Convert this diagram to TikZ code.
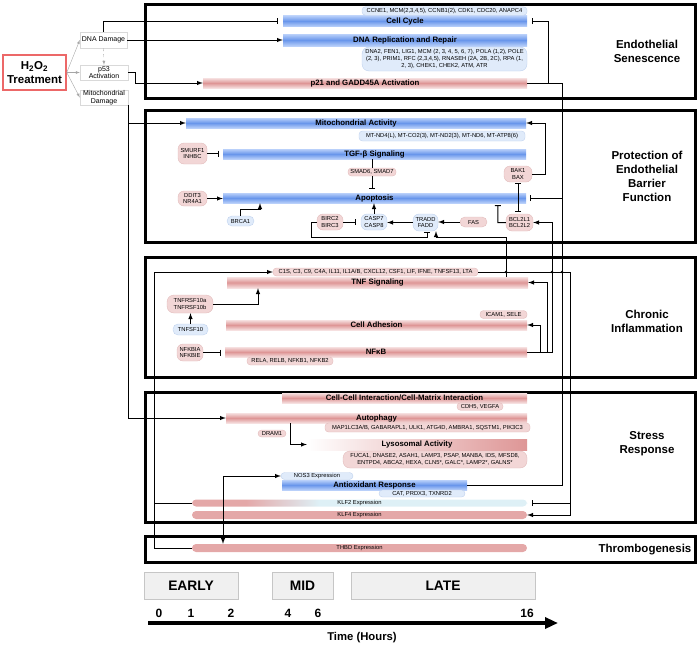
\documentclass[tikz,border=0pt]{standalone}
\usepackage{fontspec}
\setmainfont{Liberation Sans}
\usetikzlibrary{arrows.meta,positioning}
\definecolor{bluedk}{RGB}{105,150,235}
\definecolor{bluelt}{RGB}{185,208,250}
\definecolor{reddk}{RGB}{222,150,150}
\definecolor{redlt}{RGB}{246,224,224}
\definecolor{genebl}{RGB}{224,235,250}
\definecolor{geneblline}{RGB}{192,210,238}
\definecolor{generd}{RGB}{242,214,214}
\definecolor{generdline}{RGB}{226,188,188}
\definecolor{klfpink}{RGB}{228,168,168}
\definecolor{klfcyan}{RGB}{222,240,246}
\definecolor{treatred}{RGB}{236,104,104}
\pgfdeclarehorizontalshading{klfshade}{100bp}{color(0bp)=(klfpink); color(33bp)=(klfpink); color(44bp)=(klfcyan); color(100bp)=(klfcyan)}
\begin{document}
\begin{tikzpicture}[x=1pt,y=-1pt,
    barbase/.style={rectangle, inner sep=0pt, font=\bfseries\fontsize{7.8}{8}\selectfont},
    bluebar/.style={barbase, top color=bluelt, bottom color=bluelt, middle color=bluedk},
    redbar/.style={barbase, top color=redlt, bottom color=redlt, middle color=reddk},
    exprbar/.style={rectangle, rounded corners=4pt, inner sep=0pt, font=\fontsize{5.8}{6}\selectfont},
    gene/.style={rectangle, rounded corners=3.5pt, inner sep=0.5pt, align=center, font=\fontsize{5.8}{6.6}\selectfont},
    bluegene/.style={gene, fill=genebl, draw=geneblline},
    redgene/.style={gene, fill=generd, draw=generdline},
    event/.style={rectangle, draw=gray!30, fill=white, align=center, inner sep=0.5pt, font=\fontsize{7}{7.8}\selectfont},
    sect/.style={draw, line width=3pt},
    secttext/.style={align=center, font=\bfseries\fontsize{11.5}{14}\selectfont},
    phasebox/.style={rectangle, draw=gray!45, fill=gray!12, minimum height=27pt, font=\bfseries\fontsize{13.8}{14}\selectfont},
    hourtext/.style={font=\bfseries\fontsize{12}{13}\selectfont},
    link/.style={line width=1pt},
    act/.style={link, ->, >=latex},
    inh/.style={link, -{Bar[width=6pt]}},
    fanout/.style={gray!70, line width=0.4pt, ->, >=latex}
  ]
  \useasboundingbox (0,0) rectangle (700,645);

  % outcome panels
  \draw[sect] (145,4) rectangle (695,98);
  \draw[sect] (145,110) rectangle (695,242);
  \draw[sect] (145,257) rectangle (695,377);
  \draw[sect] (145,392) rectangle (695,522);
  \draw[sect] (145,536) rectangle (695,562);

  \node[secttext] (senlbl) at (647,51) {Endothelial\\Senescence};
  \node[secttext] (barlbl) at (647,176) {Protection of\\Endothelial\\Barrier\\Function};
  \node[secttext] (inflbl) at (647,321.5) {Chronic\\Inflammation};
  \node[secttext] (strlbl) at (647,443.5) {Stress\\Response};
  \node[secttext] (thrlbl) at (645,550) {Thrombogenesis};

  % treatment and early events
  \node[draw=treatred, line width=1.5pt, fill=white, minimum width=63, minimum height=35, align=center,
        font=\bfseries\fontsize{11.5}{14}\selectfont] (h2o2) at (34.5,72.5) {H\textsubscript{2}O\textsubscript{2}\\Treatment};
  \node[event, minimum width=47, minimum height=16] (dnadmg) at (103.5,40) {DNA Damage};
  \node[event, minimum width=48, minimum height=15] (p53) at (104,72.5) {p53\\Activation};
  \node[event, minimum width=48, minimum height=15] (mitodmg) at (104,97.5) {Mitochondrial\\Damage};
  \draw[fanout] (h2o2.east) -- (dnadmg.west);
  \draw[fanout] (h2o2.east) -- (p53.west);
  \draw[fanout] (h2o2.east) -- (mitodmg.west);
  \draw[fanout, dashed] (dnadmg.south) -- (p53.north);

  % endothelial senescence
  \node[bluebar, minimum width=244, minimum height=11] (cellcyc) at (405,21) {Cell Cycle};
  \node[bluegene, minimum width=165, minimum height=8.5] (cycgenes) at (444.5,11) {CCNE1, MCM(2,3,4,5), CCNB1(2), CDK1, CDC20, ANAPC4};
  \node[bluebar, minimum width=244, minimum height=12] (dnarep) at (405,40) {DNA Replication and Repair};
  \node[bluegene, minimum width=165, minimum height=24, rounded corners=7pt] (repgenes) at (444.5,59)
    {DNA2, FEN1, LIG1, MCM (2, 3, 4, 5, 6, 7), POLA (1,2), POLE\\(2, 3), PRIM1, RFC (2,3,4,5), RNASEH (2A, 2B, 2C), RPA (1,\\2, 3), CHEK1, CHEK2, ATM, ATR};
  \node[redbar, minimum width=324, minimum height=10] (p21) at (365,83) {p21 and GADD45A Activation};

  \draw[inh, shorten >=5pt] (dnadmg.north) |- (cellcyc.west);
  \draw[act] (dnadmg.east) -- (dnarep.west);
  \draw[act] (p53.east) -- ++(7,0) |- (p21.west);
  \draw[inh, shorten >=5pt] (p21.east) -- ++(21,0) |- (cellcyc.east);

  % endothelial barrier
  \node[bluebar, minimum width=340, minimum height=10] (mitoact) at (356,123) {Mitochondrial Activity};
  \node[bluegene, minimum width=166, minimum height=10] (mitogenes) at (442,136) {MT-ND4(L), MT-CO2(3), MT-ND2(3), MT-ND6, MT-ATP8(6)};
  \node[redgene, minimum width=29, minimum height=21, rounded corners=6pt] (smurf) at (192.5,153.5) {SMURF1\\INHBC};
  \node[bluebar, minimum width=303, minimum height=10] (tgf) at (374.5,154) {TGF-β Signaling};
  \node[redgene, minimum width=48, minimum height=8] (smad) at (372,172) {SMAD6, SMAD7};
  \node[redgene, minimum width=29, minimum height=15, rounded corners=6pt] (ddit) at (192.5,198.5) {DDIT3\\NR4A1};
  \node[bluebar, minimum width=303, minimum height=10] (apop) at (374.5,198) {Apoptosis};
  \node[bluegene, minimum width=27, minimum height=10, rounded corners=5pt] (brca) at (240.5,221) {BRCA1};
  \node[redgene, minimum width=26, minimum height=16, rounded corners=6pt] (birc) at (330,222) {BIRC2\\BIRC3};
  \node[bluegene, minimum width=26, minimum height=16, rounded corners=6pt] (casp) at (374,222) {CASP7\\CASP8};
  \node[bluegene, minimum width=25, minimum height=17, rounded corners=6pt] (tradd) at (425.5,222.5) {TRADD\\FADD};
  \node[redgene, minimum width=27, minimum height=10, rounded corners=5pt] (fas) at (473.5,222) {FAS};
  \node[redgene, minimum width=28, minimum height=16, rounded corners=6pt] (bak) at (518,174) {BAK1\\BAX};
  \node[redgene, minimum width=27, minimum height=17, rounded corners=6pt] (bcl) at (519.5,222.5) {BCL2L1\\BCL2L2};

  \draw[act] (mitodmg.south east) |- (mitoact.west);
  \draw[inh, shorten >=4pt] (smurf.east) -- (smurf.east -| tgf.west);
  \draw[link] (smad.north |- tgf.south) -- (smad.north);
  \draw[inh, shorten >=4pt] (smad.south) -- (smad.south |- apop.north);
  \draw[act] (ddit.east) -- (ddit.east -| apop.west);
  \draw[act] (brca.north) -- ++(0,-6) -| ([xshift=-114.5pt]apop.south);
  \draw[act] (casp.north) -- (casp.north |- apop.south);
  \draw[act] (fas.west) -- (fas.west -| tradd.east);
  \draw[act] (tradd.west) -- (tradd.west -| casp.east);
  \draw[inh, shorten >=5pt] (birc.east) -- (birc.east -| casp.west);
  \draw[inh] (birc.west) -- ++(-5,0) |- ([xshift=1.5pt,yshift=-6pt]tradd.south) -- ([xshift=1.5pt,yshift=-1pt]tradd.south);
  \draw[act] (bak.east) -- ++(13,0) |- (mitoact.east);
  \draw[link, {Bar[width=6pt]}-{Bar[width=6pt]}, shorten <=1pt, shorten >=2pt] (bak.south) -- (bak.south |- bcl.north);
  \draw[inh, shorten >=2pt] (bcl.west) -- ++(-8,0) -- ([xshift=123.5pt]apop.south);

  % chronic inflammation
  \node[redgene, minimum width=205, minimum height=8] (c1s) at (375.5,272) {C1S, C3, C9, C4A, IL11, IL1A/B, CXCL12, CSF1, LIF, IFNE, TNFSF13, LTA};
  \node[redbar, minimum width=301, minimum height=11] (tnfsig) at (377.5,282.5) {TNF Signaling};
  \node[redgene, minimum width=46, minimum height=18, rounded corners=7pt] (tnfr) at (190,304) {TNFRSF10a\\TNFRSF10b};
  \node[bluegene, minimum width=35, minimum height=11, rounded corners=5pt] (tnfsf) at (190.5,329.5) {TNFSF10};
  \node[redgene, minimum width=47, minimum height=8] (icam) at (503.5,314.5) {ICAM1, SELE};
  \node[redbar, minimum width=301, minimum height=10] (celladh) at (376.5,325) {Cell Adhesion};
  \node[redgene, minimum width=26, minimum height=17, rounded corners=6pt] (nfkbia) at (190,352.5) {NFKBIA\\NFKBIE};
  \node[redbar, minimum width=302, minimum height=10] (nfkb) at (376,352) {NFκB};
  \node[redgene, minimum width=86, minimum height=8] (rela) at (290,361) {RELA, RELB, NFKB1, NFKB2};

  \draw[act] (tnfr.east) -| ([xshift=-119.5pt]tnfsig.south);
  \draw[act] (tnfsf.north) -- (tnfsf.north |- tnfr.south);
  \draw[inh, shorten >=4pt] (nfkbia.east) -- (nfkbia.east -| nfkb.west);
  \draw[act] (nfkb.east) -- ++(25,0) |- (bcl.east);
  \draw[act] (nfkb.east) -- ++(20,0) |- (tnfsig.east);
  \draw[act] (nfkb.east) -- ++(13,0) |- (celladh.east);
  \draw[act] ([xshift=128.5pt]tnfsig.north) |- ([xshift=10.5pt,yshift=-6pt]tradd.south) -- ([xshift=10.5pt]tradd.south);

  % stress response
  \node[redbar, minimum width=245, minimum height=10] (cellcell) at (404.5,398) {Cell-Cell Interaction/Cell-Matrix Interaction};
  \node[redgene, minimum width=46, minimum height=7.5] (cdh5) at (480,406.5) {CDH5, VEGFA};
  \node[redbar, minimum width=301, minimum height=10] (autoph) at (376.5,418) {Autophagy};
  \node[redgene, minimum width=205, minimum height=9] (autogenes) at (427.5,427.5) {MAP1LC3A/B, GABARAPL1, ULK1, ATG4D, AMBRA1, SQSTM1, PIK3C3};
  \node[redgene, minimum width=28, minimum height=7] (dram) at (272,433.5) {DRAM1};
  \node[barbase, left color=white, right color=reddk, minimum width=220, minimum height=11] (lyso) at (417,444.5) {Lysosomal Activity};
  \node[redgene, minimum width=184, minimum height=17, rounded corners=7pt] (lysogenes) at (435,459.5)
    {FUCA1, DNASE2, ASAH1, LAMP3, PSAP, MANBA, IDS, MFSD8,\\ENTPD4, ABCA2, HEXA, CLN5*, GALC*, LAMP2*, GALNS*};
  \node[bluegene, minimum width=72, minimum height=7] (nos3) at (317,476) {NOS3 Expression};
  \node[bluebar, minimum width=185, minimum height=10] (antiox) at (374.5,485) {Antioxidant Response};
  \node[bluegene, minimum width=86, minimum height=7] (catgenes) at (422,493.5) {CAT, PRDX3, TXNRD2};
  \node[exprbar, shading=klfshade, minimum width=335, minimum height=7] (klf2) at (359.5,503) {KLF2 Expression};
  \node[exprbar, fill=klfpink, minimum width=335, minimum height=8] (klf4) at (359.5,515) {KLF4 Expression};

  % thrombogenesis
  \node[exprbar, fill=klfpink, minimum width=335, minimum height=8] (thbd) at (359.5,548) {THBD Expression};

  \draw[act] (mitodmg.south east) |- (autoph.west);
  \draw[act] ([xshift=-86.5pt]autoph.south) |- (lyso.west);
  \draw[link] (antiox.east) -- ++(95,0) |- (p21.east);
  \draw[inh, shorten >=4pt] ([xshift=95pt]antiox.east) |- (apop.east);
  \draw[act] (klf2.west) -- ++(-37,0) |- (c1s.west);
  \draw[link] (thbd.west) -- ++(-37,0) |- (klf2.west);
  \draw[act] (c1s.east) -- ++(92,0) |- (klf4.east);
  \draw[inh, shorten >=5pt] ([xshift=92pt]c1s.east) |- (klf2.east);
  \draw[act] ([xshift=-136.5pt]klf2.north) |- (nos3.west);
  \draw[act] ([xshift=-136.5pt]klf2.north) -- ([xshift=-136.5pt]thbd.north);
  \fill (506,272) circle (1.3);
  \fill (552,272) circle (1.3);
  \fill (562,272) circle (1.3);

  % time line
  \node[phasebox, minimum width=94] (early) at (191,585.5) {EARLY};
  \node[phasebox, minimum width=61] (mid) at (302.5,585.5) {MID};
  \node[phasebox, minimum width=184] (late) at (443,585.5) {LATE};
  \node[hourtext] (h0) at (159,613) {0};
  \node[hourtext] (h1) at (191,613) {1};
  \node[hourtext] (h2) at (231,613) {2};
  \node[hourtext] (h4) at (288,613) {4};
  \node[hourtext] (h6) at (318,613) {6};
  \node[hourtext] (h16) at (527,613) {16};
  \coordinate (tstart) at (148,623);
  \coordinate (tend) at (558,623);
  \draw[line width=3.2pt, -{Triangle[length=13pt,width=11pt]}] (tstart) -- (tend);
  \node[font=\bfseries\fontsize{11.3}{12}\selectfont] (timelbl) at (362,638) {Time (Hours)};
\end{tikzpicture}
\end{document}
